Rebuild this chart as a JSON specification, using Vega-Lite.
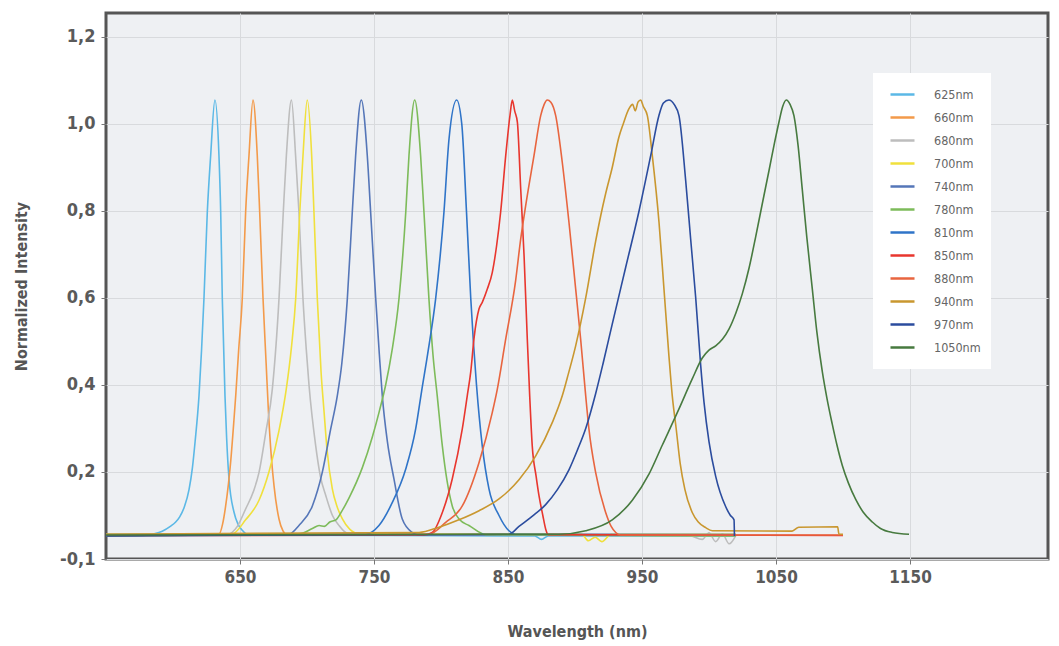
{
"$schema":"https://vega.github.io/schema/vega-lite/v6.json",
"width":942,"height":546,
"autosize":{"type":"none"},
"padding":{"left":106,"top":13,"right":11,"bottom":87},
"background":"white",
"config":{"view":{"fill":"#eef0f3","stroke":"#555555","strokeWidth":3}},
"data":{"values":[
{"led":"625nm","nm":550,"v":0.053},{"led":"625nm","nm":578,"v":0.054},{"led":"625nm","nm":586,"v":0.058},{"led":"625nm","nm":592,"v":0.064},{"led":"625nm","nm":598,"v":0.075},{"led":"625nm","nm":602,"v":0.085},{"led":"625nm","nm":605,"v":0.097},{"led":"625nm","nm":608.5,"v":0.12},{"led":"625nm","nm":612,"v":0.16},{"led":"625nm","nm":614.5,"v":0.21},{"led":"625nm","nm":616.5,"v":0.27},{"led":"625nm","nm":619.4,"v":0.375},{"led":"625nm","nm":621.3,"v":0.48},{"led":"625nm","nm":623.1,"v":0.598},{"led":"625nm","nm":625.6,"v":0.797},{"led":"625nm","nm":628.1,"v":0.927},{"led":"625nm","nm":631.3,"v":1.055},{"led":"625nm","nm":634.3,"v":0.927},{"led":"625nm","nm":635.6,"v":0.797},{"led":"625nm","nm":636.8,"v":0.598},{"led":"625nm","nm":638.8,"v":0.375},{"led":"625nm","nm":640,"v":0.28},{"led":"625nm","nm":641.8,"v":0.184},{"led":"625nm","nm":645.5,"v":0.108},{"led":"625nm","nm":648.5,"v":0.08},{"led":"625nm","nm":651.7,"v":0.066},{"led":"625nm","nm":656.7,"v":0.055},{"led":"625nm","nm":870,"v":0.053},{"led":"625nm","nm":875,"v":0.045},{"led":"625nm","nm":880,"v":0.053},{"led":"625nm","nm":1020,"v":0.053},
{"led":"660nm","nm":550,"v":0.056},{"led":"660nm","nm":634.3,"v":0.057},{"led":"660nm","nm":637,"v":0.08},{"led":"660nm","nm":639.3,"v":0.122},{"led":"660nm","nm":643,"v":0.222},{"led":"660nm","nm":645.5,"v":0.32},{"led":"660nm","nm":646.8,"v":0.375},{"led":"660nm","nm":649,"v":0.48},{"led":"660nm","nm":651.7,"v":0.598},{"led":"660nm","nm":654.2,"v":0.797},{"led":"660nm","nm":656.7,"v":0.927},{"led":"660nm","nm":659.7,"v":1.055},{"led":"660nm","nm":662.9,"v":0.927},{"led":"660nm","nm":664.7,"v":0.797},{"led":"660nm","nm":667.2,"v":0.598},{"led":"660nm","nm":669.5,"v":0.45},{"led":"660nm","nm":671.2,"v":0.34},{"led":"660nm","nm":673.5,"v":0.23},{"led":"660nm","nm":675.4,"v":0.168},{"led":"660nm","nm":679.1,"v":0.092},{"led":"660nm","nm":682,"v":0.065},{"led":"660nm","nm":684.5,"v":0.057},{"led":"660nm","nm":1020,"v":0.056},
{"led":"680nm","nm":550,"v":0.054},{"led":"680nm","nm":640,"v":0.056},{"led":"680nm","nm":648,"v":0.075},{"led":"680nm","nm":654.2,"v":0.115},{"led":"680nm","nm":660,"v":0.155},{"led":"680nm","nm":664.2,"v":0.199},{"led":"680nm","nm":669.2,"v":0.29},{"led":"680nm","nm":674.1,"v":0.39},{"led":"680nm","nm":679.1,"v":0.598},{"led":"680nm","nm":682.3,"v":0.797},{"led":"680nm","nm":684.6,"v":0.927},{"led":"680nm","nm":688.4,"v":1.055},{"led":"680nm","nm":691.5,"v":0.927},{"led":"680nm","nm":694,"v":0.797},{"led":"680nm","nm":697,"v":0.598},{"led":"680nm","nm":699.5,"v":0.48},{"led":"680nm","nm":701.5,"v":0.4},{"led":"680nm","nm":706.5,"v":0.26},{"led":"680nm","nm":710,"v":0.19},{"led":"680nm","nm":714,"v":0.146},{"led":"680nm","nm":719,"v":0.1},{"led":"680nm","nm":723.9,"v":0.077},{"led":"680nm","nm":728,"v":0.063},{"led":"680nm","nm":733.8,"v":0.055},{"led":"680nm","nm":985,"v":0.054},{"led":"680nm","nm":995,"v":0.045},{"led":"680nm","nm":1000,"v":0.06},{"led":"680nm","nm":1005,"v":0.04},{"led":"680nm","nm":1010,"v":0.058},{"led":"680nm","nm":1015,"v":0.035},{"led":"680nm","nm":1020,"v":0.054},
{"led":"700nm","nm":550,"v":0.057},{"led":"700nm","nm":644.3,"v":0.058},{"led":"700nm","nm":654.2,"v":0.09},{"led":"700nm","nm":664.2,"v":0.135},{"led":"700nm","nm":671.6,"v":0.2},{"led":"700nm","nm":679.1,"v":0.295},{"led":"700nm","nm":684.5,"v":0.39},{"led":"700nm","nm":688.5,"v":0.49},{"led":"700nm","nm":691.6,"v":0.6},{"led":"700nm","nm":694.6,"v":0.797},{"led":"700nm","nm":697,"v":0.927},{"led":"700nm","nm":700.2,"v":1.055},{"led":"700nm","nm":703.5,"v":0.927},{"led":"700nm","nm":705.2,"v":0.797},{"led":"700nm","nm":707.7,"v":0.598},{"led":"700nm","nm":710.5,"v":0.43},{"led":"700nm","nm":712.7,"v":0.34},{"led":"700nm","nm":715,"v":0.25},{"led":"700nm","nm":718.9,"v":0.161},{"led":"700nm","nm":722.5,"v":0.12},{"led":"700nm","nm":726.4,"v":0.092},{"led":"700nm","nm":732,"v":0.068},{"led":"700nm","nm":738.8,"v":0.058},{"led":"700nm","nm":905,"v":0.057},{"led":"700nm","nm":910,"v":0.042},{"led":"700nm","nm":915,"v":0.05},{"led":"700nm","nm":920,"v":0.04},{"led":"700nm","nm":927,"v":0.057},{"led":"700nm","nm":1020,"v":0.057},
{"led":"740nm","nm":550,"v":0.055},{"led":"740nm","nm":686.6,"v":0.057},{"led":"740nm","nm":694,"v":0.077},{"led":"740nm","nm":704,"v":0.122},{"led":"740nm","nm":711.4,"v":0.199},{"led":"740nm","nm":717.7,"v":0.299},{"led":"740nm","nm":722.6,"v":0.375},{"led":"740nm","nm":726,"v":0.45},{"led":"740nm","nm":730.1,"v":0.598},{"led":"740nm","nm":733.8,"v":0.797},{"led":"740nm","nm":736.3,"v":0.927},{"led":"740nm","nm":740.5,"v":1.055},{"led":"740nm","nm":745,"v":0.927},{"led":"740nm","nm":747.5,"v":0.797},{"led":"740nm","nm":751.3,"v":0.598},{"led":"740nm","nm":754,"v":0.47},{"led":"740nm","nm":756.2,"v":0.375},{"led":"740nm","nm":760,"v":0.27},{"led":"740nm","nm":764.9,"v":0.184},{"led":"740nm","nm":771.1,"v":0.092},{"led":"740nm","nm":778.6,"v":0.061},{"led":"740nm","nm":783,"v":0.055},{"led":"740nm","nm":1020,"v":0.055},
{"led":"780nm","nm":550,"v":0.053},{"led":"780nm","nm":694,"v":0.058},{"led":"780nm","nm":704,"v":0.07},{"led":"780nm","nm":709,"v":0.077},{"led":"780nm","nm":713,"v":0.075},{"led":"780nm","nm":717,"v":0.085},{"led":"780nm","nm":721.6,"v":0.09},{"led":"780nm","nm":726,"v":0.11},{"led":"780nm","nm":731.3,"v":0.14},{"led":"780nm","nm":741.3,"v":0.21},{"led":"780nm","nm":748.7,"v":0.28},{"led":"780nm","nm":754,"v":0.34},{"led":"780nm","nm":758.7,"v":0.4},{"led":"780nm","nm":763.5,"v":0.48},{"led":"780nm","nm":768.7,"v":0.6},{"led":"780nm","nm":773.7,"v":0.797},{"led":"780nm","nm":776.1,"v":0.927},{"led":"780nm","nm":780.4,"v":1.055},{"led":"780nm","nm":784.8,"v":0.927},{"led":"780nm","nm":787.3,"v":0.797},{"led":"780nm","nm":791,"v":0.598},{"led":"780nm","nm":794,"v":0.47},{"led":"780nm","nm":797.2,"v":0.375},{"led":"780nm","nm":801,"v":0.26},{"led":"780nm","nm":804.5,"v":0.18},{"led":"780nm","nm":808.4,"v":0.122},{"led":"780nm","nm":814,"v":0.09},{"led":"780nm","nm":820.9,"v":0.077},{"led":"780nm","nm":833.4,"v":0.056},{"led":"780nm","nm":1020,"v":0.053},
{"led":"810nm","nm":550,"v":0.056},{"led":"810nm","nm":743.8,"v":0.057},{"led":"810nm","nm":753.7,"v":0.077},{"led":"810nm","nm":763.7,"v":0.13},{"led":"810nm","nm":773.7,"v":0.207},{"led":"810nm","nm":781.1,"v":0.299},{"led":"810nm","nm":785.5,"v":0.385},{"led":"810nm","nm":790.5,"v":0.48},{"led":"810nm","nm":796,"v":0.598},{"led":"810nm","nm":802.2,"v":0.797},{"led":"810nm","nm":806,"v":0.966},{"led":"810nm","nm":811.7,"v":1.055},{"led":"810nm","nm":815.5,"v":1.0},{"led":"810nm","nm":819,"v":0.8},{"led":"810nm","nm":822.2,"v":0.6},{"led":"810nm","nm":826.5,"v":0.4},{"led":"810nm","nm":830.8,"v":0.26},{"led":"810nm","nm":835.8,"v":0.161},{"led":"810nm","nm":843.3,"v":0.1},{"led":"810nm","nm":850.7,"v":0.065},{"led":"810nm","nm":855.7,"v":0.057},{"led":"810nm","nm":1020,"v":0.056},
{"led":"850nm","nm":550,"v":0.054},{"led":"850nm","nm":787.3,"v":0.055},{"led":"850nm","nm":793.5,"v":0.061},{"led":"850nm","nm":801,"v":0.107},{"led":"850nm","nm":808.4,"v":0.184},{"led":"850nm","nm":815.9,"v":0.299},{"led":"850nm","nm":819.6,"v":0.375},{"led":"850nm","nm":822.2,"v":0.43},{"led":"850nm","nm":824.6,"v":0.506},{"led":"850nm","nm":828.4,"v":0.575},{"led":"850nm","nm":830.8,"v":0.59},{"led":"850nm","nm":834.5,"v":0.62},{"led":"850nm","nm":838.3,"v":0.659},{"led":"850nm","nm":841.5,"v":0.72},{"led":"850nm","nm":844.5,"v":0.797},{"led":"850nm","nm":848.3,"v":0.927},{"led":"850nm","nm":851.5,"v":1.02},{"led":"850nm","nm":853.2,"v":1.055},{"led":"850nm","nm":855,"v":1.03},{"led":"850nm","nm":857,"v":1.004},{"led":"850nm","nm":859.5,"v":0.85},{"led":"850nm","nm":862,"v":0.697},{"led":"850nm","nm":864.4,"v":0.506},{"led":"850nm","nm":866.2,"v":0.375},{"led":"850nm","nm":868.1,"v":0.26},{"led":"850nm","nm":871,"v":0.19},{"led":"850nm","nm":873.1,"v":0.146},{"led":"850nm","nm":876,"v":0.1},{"led":"850nm","nm":878.1,"v":0.069},{"led":"850nm","nm":880,"v":0.056},{"led":"850nm","nm":1100,"v":0.054},
{"led":"880nm","nm":550,"v":0.055},{"led":"880nm","nm":791,"v":0.057},{"led":"880nm","nm":803.5,"v":0.084},{"led":"880nm","nm":815.9,"v":0.122},{"led":"880nm","nm":828.4,"v":0.222},{"led":"880nm","nm":838.3,"v":0.337},{"led":"880nm","nm":842,"v":0.39},{"led":"880nm","nm":848,"v":0.5},{"led":"880nm","nm":855.7,"v":0.64},{"led":"880nm","nm":859.5,"v":0.736},{"led":"880nm","nm":863.2,"v":0.812},{"led":"880nm","nm":869.4,"v":0.927},{"led":"880nm","nm":874.4,"v":1.019},{"led":"880nm","nm":877,"v":1.045},{"led":"880nm","nm":879.3,"v":1.055},{"led":"880nm","nm":882,"v":1.05},{"led":"880nm","nm":885.6,"v":1.019},{"led":"880nm","nm":890.5,"v":0.912},{"led":"880nm","nm":895.5,"v":0.774},{"led":"880nm","nm":900.5,"v":0.621},{"led":"880nm","nm":904.2,"v":0.506},{"led":"880nm","nm":908,"v":0.375},{"led":"880nm","nm":910.4,"v":0.299},{"led":"880nm","nm":915.4,"v":0.199},{"led":"880nm","nm":922.9,"v":0.107},{"led":"880nm","nm":927,"v":0.075},{"led":"880nm","nm":930.4,"v":0.061},{"led":"880nm","nm":934,"v":0.055},{"led":"880nm","nm":1100,"v":0.055},
{"led":"940nm","nm":550,"v":0.057},{"led":"940nm","nm":783.6,"v":0.061},{"led":"940nm","nm":798.5,"v":0.073},{"led":"940nm","nm":813.4,"v":0.09},{"led":"940nm","nm":828.4,"v":0.111},{"led":"940nm","nm":843.3,"v":0.138},{"led":"940nm","nm":858.2,"v":0.182},{"led":"940nm","nm":870.7,"v":0.237},{"led":"940nm","nm":883.1,"v":0.314},{"led":"940nm","nm":890.5,"v":0.375},{"led":"940nm","nm":895,"v":0.425},{"led":"940nm","nm":900.5,"v":0.49},{"led":"940nm","nm":908,"v":0.6},{"led":"940nm","nm":915.4,"v":0.73},{"led":"940nm","nm":919.2,"v":0.789},{"led":"940nm","nm":922.9,"v":0.84},{"led":"940nm","nm":927.8,"v":0.9},{"led":"940nm","nm":932.8,"v":0.97},{"led":"940nm","nm":936,"v":1.0},{"led":"940nm","nm":940.3,"v":1.035},{"led":"940nm","nm":943,"v":1.045},{"led":"940nm","nm":945,"v":1.03},{"led":"940nm","nm":947,"v":1.05},{"led":"940nm","nm":949,"v":1.055},{"led":"940nm","nm":951,"v":1.04},{"led":"940nm","nm":954,"v":1.019},{"led":"940nm","nm":957.7,"v":0.927},{"led":"940nm","nm":962.7,"v":0.774},{"led":"940nm","nm":966.4,"v":0.621},{"led":"940nm","nm":970.1,"v":0.467},{"led":"940nm","nm":972.6,"v":0.375},{"led":"940nm","nm":975.5,"v":0.3},{"led":"940nm","nm":978.5,"v":0.22},{"led":"940nm","nm":982,"v":0.16},{"led":"940nm","nm":987.5,"v":0.107},{"led":"940nm","nm":992,"v":0.085},{"led":"940nm","nm":997.5,"v":0.072},{"led":"940nm","nm":1002.5,"v":0.065},{"led":"940nm","nm":1062,"v":0.064},{"led":"940nm","nm":1067,"v":0.073},{"led":"940nm","nm":1096,"v":0.074},{"led":"940nm","nm":1097,"v":0.057},{"led":"940nm","nm":1100,"v":0.057},
{"led":"970nm","nm":550,"v":0.053},{"led":"970nm","nm":850.7,"v":0.057},{"led":"970nm","nm":858.2,"v":0.075},{"led":"970nm","nm":868,"v":0.098},{"led":"970nm","nm":878.1,"v":0.125},{"led":"970nm","nm":887,"v":0.16},{"led":"970nm","nm":895.5,"v":0.205},{"led":"970nm","nm":902,"v":0.252},{"led":"970nm","nm":908,"v":0.3},{"led":"970nm","nm":915.4,"v":0.38},{"led":"970nm","nm":921,"v":0.45},{"led":"970nm","nm":927.8,"v":0.54},{"led":"970nm","nm":937.8,"v":0.67},{"led":"970nm","nm":947.8,"v":0.8},{"led":"970nm","nm":956.5,"v":0.927},{"led":"970nm","nm":962.7,"v":1.02},{"led":"970nm","nm":966,"v":1.048},{"led":"970nm","nm":970.1,"v":1.055},{"led":"970nm","nm":974,"v":1.045},{"led":"970nm","nm":977.6,"v":1.019},{"led":"970nm","nm":982.6,"v":0.87},{"led":"970nm","nm":986.3,"v":0.736},{"led":"970nm","nm":990.1,"v":0.6},{"led":"970nm","nm":993.8,"v":0.445},{"led":"970nm","nm":996.3,"v":0.36},{"led":"970nm","nm":1000,"v":0.27},{"led":"970nm","nm":1005,"v":0.19},{"led":"970nm","nm":1012.5,"v":0.12},{"led":"970nm","nm":1016,"v":0.1},{"led":"970nm","nm":1018.7,"v":0.09},{"led":"970nm","nm":1019,"v":0.053},
{"led":"1050nm","nm":550,"v":0.055},{"led":"1050nm","nm":888,"v":0.057},{"led":"1050nm","nm":908,"v":0.065},{"led":"1050nm","nm":927.8,"v":0.09},{"led":"1050nm","nm":942.8,"v":0.135},{"led":"1050nm","nm":955.2,"v":0.195},{"led":"1050nm","nm":965.2,"v":0.262},{"led":"1050nm","nm":977.6,"v":0.345},{"led":"1050nm","nm":987.5,"v":0.414},{"led":"1050nm","nm":995,"v":0.462},{"led":"1050nm","nm":1000,"v":0.48},{"led":"1050nm","nm":1005,"v":0.49},{"led":"1050nm","nm":1010,"v":0.505},{"led":"1050nm","nm":1015,"v":0.529},{"led":"1050nm","nm":1020,"v":0.565},{"led":"1050nm","nm":1024.9,"v":0.61},{"led":"1050nm","nm":1030,"v":0.67},{"led":"1050nm","nm":1034.8,"v":0.74},{"led":"1050nm","nm":1040,"v":0.82},{"led":"1050nm","nm":1044.8,"v":0.893},{"led":"1050nm","nm":1049,"v":0.958},{"led":"1050nm","nm":1052.2,"v":1.004},{"led":"1050nm","nm":1055,"v":1.04},{"led":"1050nm","nm":1057.7,"v":1.055},{"led":"1050nm","nm":1060.5,"v":1.045},{"led":"1050nm","nm":1063.4,"v":1.019},{"led":"1050nm","nm":1066.5,"v":0.95},{"led":"1050nm","nm":1069.6,"v":0.85},{"led":"1050nm","nm":1073,"v":0.74},{"led":"1050nm","nm":1077.1,"v":0.621},{"led":"1050nm","nm":1080.5,"v":0.522},{"led":"1050nm","nm":1084.6,"v":0.43},{"led":"1050nm","nm":1088,"v":0.37},{"led":"1050nm","nm":1092,"v":0.31},{"led":"1050nm","nm":1095.5,"v":0.262},{"led":"1050nm","nm":1099.5,"v":0.215},{"led":"1050nm","nm":1104,"v":0.175},{"led":"1050nm","nm":1109.5,"v":0.137},{"led":"1050nm","nm":1115,"v":0.108},{"led":"1050nm","nm":1121.9,"v":0.085},{"led":"1050nm","nm":1128,"v":0.07},{"led":"1050nm","nm":1136.8,"v":0.061},{"led":"1050nm","nm":1149.3,"v":0.057}
]},
"mark":{"type":"line","interpolate":"monotone","strokeWidth":1.6},
"encoding":{
"x":{"field":"nm","type":"quantitative",
"scale":{"domain":[550,1253],"nice":false,"zero":false},
"axis":{"values":[650,750,850,950,1050,1150],"format":"d","title":"Wavelength (nm)","grid":true,"gridColor":"#d8dadd","gridWidth":1,"domain":false,"ticks":true,"tickColor":"#777777","tickSize":5,"labelFont":"DejaVu Sans Condensed","labelFontSize":17,"labelFontWeight":"bold","labelColor":"#5a5a5a","labelPadding":5,"titleFont":"DejaVu Sans Condensed","titleFontSize":16,"titleFontWeight":"bold","titleColor":"#555555","titlePadding":38}},
"y":{"field":"v","type":"quantitative",
"scale":{"domain":[0,1.255],"nice":false,"zero":false},
"axis":{"values":[0,0.2,0.4,0.6,0.8,1.0,1.2],"labelExpr":"datum.value == 0 ? '-0,1' : replace(format(datum.value,'.1f'),'.',',')","title":"Normalized Intensity","grid":true,"gridColor":"#d8dadd","gridWidth":1,"domain":false,"tickColor":"#777777","tickSize":5,"labelFont":"DejaVu Sans Condensed","labelFontSize":18,"labelFontWeight":"bold","labelColor":"#5a5a5a","labelPadding":6,"titleFont":"DejaVu Sans Condensed","titleFontSize":16,"titleFontWeight":"bold","titleColor":"#555555","titlePadding":30}},
"color":{"field":"led","type":"nominal",
"scale":{"domain":["625nm","660nm","680nm","700nm","740nm","780nm","810nm","850nm","880nm","940nm","970nm","1050nm"],
"range":["#5bb8e6","#f39a4a","#bdbdbd","#f0e03c","#5576b8","#7dbb5a","#2f74c8","#e8362e","#e8653f","#c9972f","#2b4c9e","#477a3f"]},
"legend":{"orient":"none","legendX":767,"legendY":60,"title":null,"fillColor":"white","padding":10,"symbolOffset":6,"symbolType":"stroke","symbolSize":576,"symbolStrokeWidth":2.5,"clipHeight":23,"rowPadding":0,"labelFont":"DejaVu Sans Condensed","labelFontSize":12.5,"labelColor":"#666666","labelOffset":18,"labelLimit":70}}
}
}
